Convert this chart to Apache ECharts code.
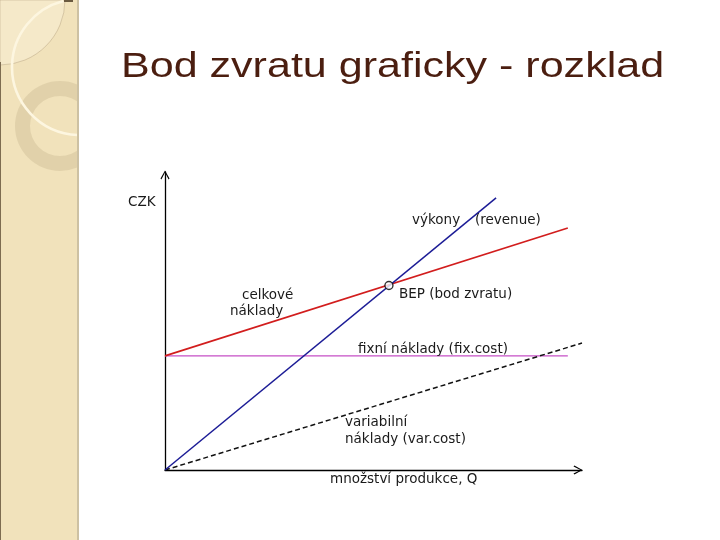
<!DOCTYPE html>
<html><head><meta charset="utf-8">
<script src="https://cdn.jsdelivr.net/npm/echarts@6/dist/echarts.min.js"></script>
<style>html,body{margin:0;padding:0;background:#fff}#c{width:720px;height:540px}</style>
</head><body><div id="c"></div><script>
// ---- data (units: Q on x, CZK on y, both 0..100 scale) ----
const revenueQ = [0, 79.4];
const revenueCZK = [0, 91.3];
const totalCostQ = [0, 96.6];
const totalCostCZK = [38.3, 81.2];
const fixedCostQ = [0, 96.6];
const fixedCostCZK = [38.3, 38.3];
const varCostQ = [0, 100];
const varCostCZK = [0, 42.6];
const bepQ = [53.7];
const bepCZK = [61.9];

const titleText = 'Bod zvratu graficky - rozklad';
const yName = 'CZK';
const xName = 'množství produkce, Q';

const pairs = (xs, ys) => xs.map((x, i) => [x, ys[i]]);

const chart = echarts.init(document.getElementById('c'), null, {renderer: 'canvas'});
const lblFont = '13.5px "DejaVu Sans", sans-serif';
function lbl(text, x, y) {
  return {type: 'text', x: x, y: y, z: 50,
    style: {text: text, x: 0, y: 0, font: lblFont, fill: '#1a1a1a', textAlign: 'left', textVerticalAlign: 'middle', align: 'left', verticalAlign: 'middle'}};
}
const arrowPath = 'path://M5,0 L10,9 L9,10 L5,2.2 L1,10 L0,9 Z';

chart.setOption({
  backgroundColor: '#ffffff',
  animation: false,
  grid: {left: 165, top: 172, width: 417, height: 298, containLabel: false},
  xAxis: {type: 'value', min: 0, max: 100,
    axisLine: {show: true, onZero: false, symbol: ['none', arrowPath], symbolSize: [10, 9], symbolOffset: [0, -4],
      lineStyle: {color: '#000', width: 1.3}},
    axisTick: {show: false}, axisLabel: {show: false}, splitLine: {show: false}},
  yAxis: {type: 'value', min: 0, max: 100,
    axisLine: {show: true, onZero: false, symbol: ['none', arrowPath], symbolSize: [10, 9], symbolOffset: [0, -3],
      lineStyle: {color: '#000', width: 1.3}},
    axisTick: {show: false}, axisLabel: {show: false}, splitLine: {show: false}},
  series: [
    {name: 'fixní náklady', type: 'line', data: pairs(fixedCostQ, fixedCostCZK), showSymbol: false,
      lineStyle: {color: '#c64fc6', width: 1.3}, z: 2},
    {name: 'variabilní náklady', type: 'line', data: pairs(varCostQ, varCostCZK), showSymbol: false,
      lineStyle: {color: '#111', width: 1.5, type: [5, 3]}, z: 3},
    {name: 'celkové náklady', type: 'line', data: pairs(totalCostQ, totalCostCZK), showSymbol: false,
      lineStyle: {color: '#d21d1d', width: 1.6}, z: 4},
    {name: 'výkony', type: 'line', data: pairs(revenueQ, revenueCZK), showSymbol: false,
      lineStyle: {color: '#1c1c96', width: 1.5}, z: 5},
    {name: 'BEP', type: 'scatter', data: pairs(bepQ, bepCZK), symbol: 'circle', symbolSize: 8,
      itemStyle: {color: '#fff', borderColor: '#000', borderWidth: 1.4}, z: 10}
  ],
  graphic: [
    // left decorative strip
    {type: 'rect', shape: {x: 0, y: 0, width: 78, height: 540}, style: {fill: '#f1e2bb'}, z: 0},
    {type: 'sector', shape: {cx: 0, cy: 0, r0: 0, r: 65, startAngle: 0, endAngle: Math.PI / 2},
      style: {fill: 'rgba(255,250,235,0.3)', stroke: 'rgba(150,130,95,0.4)', lineWidth: 0.8}, z: 1},
    {type: 'ring', shape: {cx: 60, cy: 126, r: 45, r0: 30}, style: {fill: 'rgba(196,180,140,0.36)'}, z: 1},
    {type: 'arc', shape: {cx: 80, cy: 67, r: 68, startAngle: 1.606, endAngle: 4.468, clockwise: true},
      style: {stroke: '#fdf6e0', lineWidth: 2.6, fill: null}, z: 2},
    {type: 'rect', shape: {x: 79, y: 0, width: 36, height: 175}, style: {fill: '#ffffff'}, z: 3},
    {type: 'rect', shape: {x: 77, y: 0, width: 2, height: 540}, style: {fill: '#cdc1a3'}, z: 4},
    {type: 'rect', shape: {x: 0, y: 62, width: 1, height: 478}, style: {fill: '#7d6c50'}, z: 4},
    {type: 'rect', shape: {x: 64, y: 0, width: 9, height: 2}, style: {fill: '#6a5a40'}, z: 4},
    // title
    {type: 'text', x: 121, y: 67, scaleX: 1.23, z: 50,
      style: {text: titleText, x: 0, y: 0, font: '35px "Liberation Sans", Arial, sans-serif', fill: '#4b1e10',
        textAlign: 'left', textVerticalAlign: 'middle', align: 'left', verticalAlign: 'middle'}},
    // labels
    lbl(yName, 128, 202),
    lbl('výkony', 412, 220),
    lbl('(revenue)', 475, 220),
    lbl('celkové', 242, 295),
    lbl('náklady', 230, 311),
    lbl('BEP (bod zvratu)', 399, 294),
    lbl('fixní náklady (fix.cost)', 358, 349),
    lbl('variabilní', 345, 422),
    lbl('náklady (var.cost)', 345, 439),
    lbl(xName, 330, 479)
  ]
});
</script></body></html>
